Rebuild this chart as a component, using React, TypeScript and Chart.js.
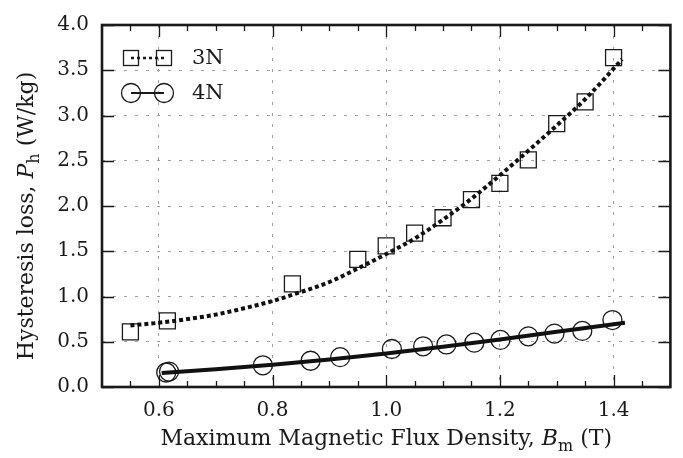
import { useEffect, useRef } from 'react';
import { Chart, registerables } from 'chart.js';

Chart.register(...registerables);

// ---- data ----
const b3N = [0.55, 0.615, 0.835, 0.95, 1.0, 1.05, 1.1, 1.15, 1.2, 1.25, 1.3, 1.35, 1.4];
const p3N = [0.61, 0.73, 1.14, 1.41, 1.56, 1.70, 1.87, 2.07, 2.25, 2.51, 2.91, 3.15, 3.64];

const b4N = [0.613, 0.618, 0.783, 0.867, 0.919, 1.01, 1.065, 1.106, 1.155, 1.201, 1.25, 1.296, 1.345, 1.398];
const p4N = [0.16, 0.17, 0.24, 0.29, 0.33, 0.42, 0.45, 0.47, 0.49, 0.52, 0.56, 0.59, 0.62, 0.74];

const fit3N_B = [0.55, 0.6, 0.65, 0.7, 0.75, 0.8, 0.85, 0.9, 0.95, 1.0, 1.05, 1.1, 1.15, 1.2, 1.25, 1.3, 1.35, 1.415];
const fit3N_P = [0.68, 0.71, 0.75, 0.8, 0.87, 0.95, 1.05, 1.16, 1.31, 1.47, 1.64, 1.85, 2.08, 2.34, 2.61, 2.89, 3.18, 3.62];

const fit4N_B = [0.605, 0.7, 0.8, 0.9, 1.0, 1.1, 1.2, 1.3, 1.42];
const fit4N_P = [0.155, 0.195, 0.245, 0.305, 0.37, 0.445, 0.525, 0.61, 0.71];

const xMajorTicks = [0.6, 0.8, 1.0, 1.2, 1.4];
const xMinorTicks = [0.55, 0.65, 0.7, 0.75, 0.85, 0.9, 0.95, 1.05, 1.1, 1.15, 1.25, 1.3, 1.35, 1.45];
const yTicks = [0, 0.5, 1.0, 1.5, 2.0, 2.5, 3.0, 3.5, 4.0];

const seriesNames = ['3N', '4N'];

const FONT = "'DejaVu Serif', serif";
const INK = '#1a1a1a';

type Seg = { t: string; italic?: boolean; sub?: boolean };
const xTitle: Seg[] = [
  { t: 'Maximum Magnetic Flux Density, ' },
  { t: 'B', italic: true },
  { t: 'm', sub: true },
  { t: ' (T)' },
];
const yTitle: Seg[] = [
  { t: 'Hysteresis loss, ' },
  { t: 'P', italic: true },
  { t: 'h', sub: true },
  { t: ' (W/kg)' },
];

function zip(xs: number[], ys: number[]) {
  return xs.map((x, i) => ({ x, y: ys[i] }));
}

function drawRich(ctx: CanvasRenderingContext2D, segs: Seg[], cx: number, cy: number, size: number) {
  const fontFor = (s: Seg) =>
    `${s.italic ? 'italic ' : ''}${s.sub ? Math.round(size * 0.72) : size}px ${FONT}`;
  let total = 0;
  const widths = segs.map((s) => {
    ctx.font = fontFor(s);
    const w = ctx.measureText(s.t).width;
    total += w;
    return w;
  });
  let x = cx - total / 2;
  ctx.textBaseline = 'alphabetic';
  ctx.textAlign = 'left';
  segs.forEach((s, i) => {
    ctx.font = fontFor(s);
    ctx.fillText(s.t, x, cy + (s.sub ? size * 0.25 : 0));
    x += widths[i];
  });
}

const framePlugin = {
  id: 'frame',
  afterDraw(chart: any) {
    const { ctx, chartArea, scales } = chart;
    const { left, right, top, bottom } = chartArea;
    const xs = scales.x;
    const ys = scales.y;
    ctx.save();
    ctx.strokeStyle = INK;
    ctx.lineWidth = 1.3;
    ctx.beginPath();
    const major = 12;
    const minor = 6;
    xMajorTicks.forEach((v) => {
      const px = Math.round(xs.getPixelForValue(v)) + 0.5;
      ctx.moveTo(px, bottom); ctx.lineTo(px, bottom - major);
      ctx.moveTo(px, top); ctx.lineTo(px, top + major);
    });
    xMinorTicks.forEach((v) => {
      const px = Math.round(xs.getPixelForValue(v)) + 0.5;
      ctx.moveTo(px, bottom); ctx.lineTo(px, bottom - minor);
      ctx.moveTo(px, top); ctx.lineTo(px, top + minor);
    });
    yTicks.forEach((v) => {
      const py = Math.round(ys.getPixelForValue(v)) + 0.5;
      ctx.moveTo(left, py); ctx.lineTo(left + major, py);
      ctx.moveTo(right, py); ctx.lineTo(right - major, py);
    });
    ctx.stroke();
    ctx.lineWidth = 2.6;
    ctx.strokeRect(left, top, right - left, bottom - top);

    // axis titles
    ctx.fillStyle = INK;
    drawRich(ctx, xTitle, (left + right) / 2, 445, 22);
    ctx.save();
    ctx.translate(33, (top + bottom) / 2 + 10);
    ctx.rotate(-Math.PI / 2);
    drawRich(ctx, yTitle, 0, 0, 22);
    ctx.restore();

    // legend
    const lx1 = left + 29;
    const lx2 = left + 62;
    const tx = left + 90;
    const r1 = top + 33;
    const r2 = top + 68;
    // row 1: dotted line with squares
    ctx.lineWidth = 2.6;
    ctx.setLineDash([3, 3]);
    ctx.beginPath();
    ctx.moveTo(lx1, r1); ctx.lineTo(lx2, r1);
    ctx.stroke();
    ctx.setLineDash([]);
    ctx.lineWidth = 1.3;
    [lx1, lx2].forEach((cx) => ctx.strokeRect(cx - 7.5, r1 - 7.5, 15, 15));
    // row 2: solid line with circles
    ctx.lineWidth = 2.2;
    ctx.beginPath();
    ctx.moveTo(lx1, r2); ctx.lineTo(lx2, r2);
    ctx.stroke();
    ctx.lineWidth = 1.3;
    [lx1, lx2].forEach((cx) => {
      ctx.beginPath();
      ctx.arc(cx, r2, 9.5, 0, Math.PI * 2);
      ctx.stroke();
    });
    ctx.font = `21px ${FONT}`;
    ctx.textAlign = 'left';
    ctx.textBaseline = 'middle';
    ctx.fillText(seriesNames[0], tx, r1 + 1);
    ctx.fillText(seriesNames[1], tx, r2 + 1);
    ctx.restore();
  },
};

export default function App() {
  const ref = useRef<HTMLCanvasElement | null>(null);
  useEffect(() => {
    if (!ref.current) return;
    const chart = new Chart(ref.current, {
      type: 'scatter',
      data: {
        datasets: [
          {
            label: seriesNames[0] + ' fit',
            data: zip(fit3N_B, fit3N_P),
            showLine: true,
            borderColor: '#111',
            borderWidth: 4,
            borderDash: [4, 3],
            pointRadius: 0,
            cubicInterpolationMode: 'monotone',
          },
          {
            label: seriesNames[1] + ' fit',
            data: zip(fit4N_B, fit4N_P),
            showLine: true,
            borderColor: '#111',
            borderWidth: 4,
            pointRadius: 0,
            cubicInterpolationMode: 'monotone',
          },
          {
            label: seriesNames[0],
            data: zip(b3N, p3N),
            showLine: false,
            pointStyle: 'rect',
            pointRadius: 11.3,
            borderWidth: 1.3,
            borderColor: INK,
            backgroundColor: 'rgba(0,0,0,0)',
          },
          {
            label: seriesNames[1],
            data: zip(b4N, p4N),
            showLine: false,
            pointStyle: 'circle',
            pointRadius: 9.5,
            borderWidth: 1.3,
            borderColor: INK,
            backgroundColor: 'rgba(0,0,0,0)',
          },
        ] as any,
      },
      options: {
        animation: false,
        responsive: true,
        maintainAspectRatio: false,
        layout: { padding: { top: 20, right: 7, left: 0, bottom: 0 } },
        plugins: { legend: { display: false }, tooltip: { enabled: false } },
        scales: {
          x: {
            type: 'linear',
            min: 0.5,
            max: 1.5,
            afterBuildTicks: (s: any) => { s.ticks = xMajorTicks.map((v) => ({ value: v })); },
            afterFit: (s: any) => { s.height = 71; },
            ticks: {
              color: INK,
              font: { family: FONT, size: 20 },
              padding: 12,
              maxRotation: 0,
              autoSkip: false,
              callback: (v: any) => Number(v).toFixed(1),
            },
            grid: { color: '#a0a0a0', lineWidth: 1, drawTicks: false },
            border: { display: false, dash: [3, 8] },
          },
          y: {
            type: 'linear',
            min: 0,
            max: 4,
            afterBuildTicks: (s: any) => { s.ticks = yTicks.map((v) => ({ value: v })); },
            afterFit: (s: any) => { s.width = 102; },
            ticks: {
              color: INK,
              font: { family: FONT, size: 20 },
              padding: 13,
              autoSkip: false,
              callback: (v: any) => Number(v).toFixed(1),
            },
            grid: { color: '#a0a0a0', lineWidth: 1, drawTicks: false },
            border: { display: false, dash: [3, 8] },
          },
        },
      } as any,
      plugins: [framePlugin],
    });
    return () => chart.destroy();
  }, []);
  return (
    <div style={{ position: 'fixed', left: 0, top: 0, width: 683, height: 458, background: '#fff' }}>
      <canvas ref={ref} />
    </div>
  );
}
